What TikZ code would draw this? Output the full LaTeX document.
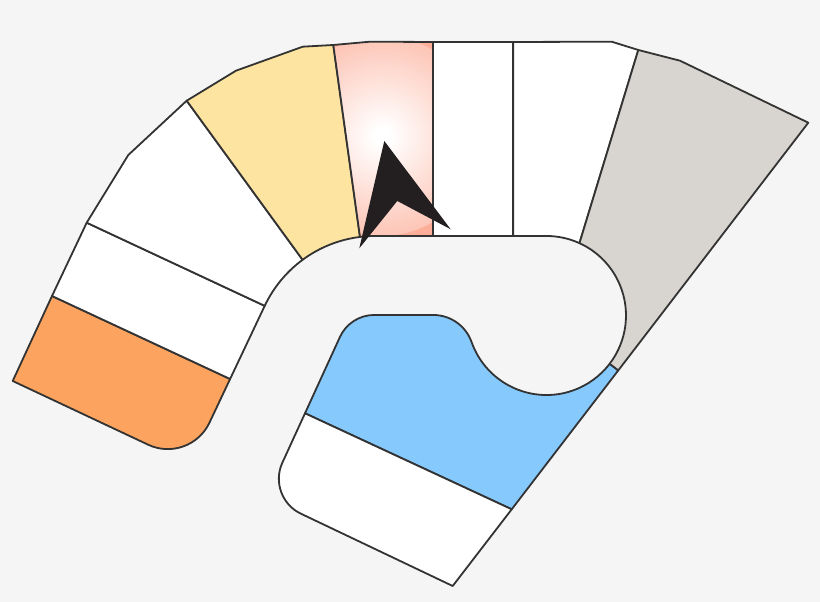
\documentclass[tikz,border=0pt]{standalone}
\usetikzlibrary{calc}
\definecolor{bgc}{HTML}{F5F5F5}
\definecolor{strokec}{HTML}{333333}
\definecolor{orac}{HTML}{FCA45F}
\definecolor{yelc}{HTML}{FDE4A0}
\definecolor{salc}{HTML}{FCAE99}
\definecolor{grayc}{HTML}{D8D4CF}
\definecolor{bluec}{HTML}{86CAFD}
\definecolor{arrc}{HTML}{231F20}
\pgfdeclareradialshading{glow}{\pgfpoint{0bp}{0bp}}{color(0bp)=(white); color(2bp)=(white); color(34bp)=(salc); color(50bp)=(salc)}
\newcommand{\salmonpath}{(P5) -- (P6) -- (S1) -- (S2) -- (IT) arc[start angle=90, end angle=97.07, radius=122pt] -- cycle}
\begin{document}
\begin{tikzpicture}[x=1pt,y=1pt,
  cell/.style={draw=strokec, line width=1.8pt, line join=round}]
\fill[bgc] (0,0) rectangle (820,602);
\useasboundingbox (0,0) rectangle (820,602);
% coordinates
\coordinate (O1) at (12.7,221);
\coordinate (O2) at (52,306);
\coordinate (O3) at (230.1,223);
\coordinate (OC) at (189.8,137.7);
\coordinate (W1) at (86.7,379.3);
\coordinate (IC) at (375,244);
\coordinate (W2) at ($(IC)+(154.7:122pt)$);
\coordinate (B) at ($(IC)+(126.4:122pt)$);
\coordinate (D) at ($(IC)+(97.07:122pt)$);
\coordinate (IT) at ($(IC)+(90:122pt)$);
\coordinate (P1) at (128.3,447);
\coordinate (P2) at (186.7,501.3);
\coordinate (P3) at (236,531.3);
\coordinate (P4) at (302.7,555.3);
\coordinate (P5) at (333.3,557);
\coordinate (P6) at (370,560.3);
\coordinate (S1) at (433.3,560);
\coordinate (S2) at (433.3,366);
\coordinate (T1) at (513.3,560);
\coordinate (T2) at (513.3,366);
\coordinate (Q1) at (611.7,560.3);
\coordinate (Q2) at (638.3,552);
\coordinate (Q3) at (680,541.3);
\coordinate (Q4) at (808.3,479.3);
\coordinate (C) at (546.5,286.5);
\coordinate (G1) at ($(C)+(65.5:79.5pt)$);
\coordinate (G3) at ($(C)+(-37.5:79.5pt)$);
\coordinate (G2) at (618.2,231.5);
\coordinate (BC) at (350,287);
\coordinate (FT) at (433.3,287);
\coordinate (BL) at (305,188.7);
\coordinate (BB) at (511.7,92.7);
\coordinate (BZ) at (452.7,16);
\coordinate (WC) at (266.5,104.7);
\coordinate (GC) at (382,466);
\coordinate (AT) at (384.3,461);
\coordinate (AL) at (359.3,353.7);
\coordinate (AN) at (397.3,401);
\coordinate (AR) at (450.7,372.7);
% orange
\filldraw[cell, fill=orac] (O1) -- (O2) -- (O3) -- ($(OC)!46pt!(O3)$) .. controls ($(OC)!20.6pt!(O3)$) and ($(OC)!20.6pt!(O1)$) .. ($(OC)!46pt!(O1)$) -- cycle;
% lower-left white
\filldraw[cell, fill=white] (O2) -- (W1) -- (W2) -- (O3) -- cycle;
% upper-left white
\filldraw[cell, fill=white] (W1) -- (P1) -- (P2) -- (B) arc[start angle=126.4, end angle=154.7, radius=122pt] -- cycle;
% yellow
\filldraw[cell, fill=yelc] (P2) -- (P3) -- (P4) -- (P5) -- (D) arc[start angle=97.07, end angle=126.4, radius=122pt] -- cycle;
% salmon with glow
\fill[salc] \salmonpath;
\begin{scope}
  \clip \salmonpath;
  \shade[shading=glow] (GC) circle (100pt);
\end{scope}
\draw[cell] \salmonpath;
% whites at top
\filldraw[cell, fill=white] (S1) -- (T1) -- (T2) -- (S2) -- cycle;
\filldraw[cell, fill=white] (T1) -- (Q1) -- (Q2) -- (G1) arc[start angle=65.5, end angle=90, radius=79.5pt] -- (T2) -- cycle;
% gray wedge
\filldraw[cell, fill=grayc] (Q2) -- (Q3) -- (Q4) -- (G2) -- (G3) arc[start angle=-37.5, end angle=65.5, radius=79.5pt] -- cycle;
% blue
\filldraw[cell, fill=bluec] (BB) -- (BL) -- ($(BC)!24pt!(BL)$) .. controls ($(BC)!9.5pt!(BL)$) and ($(BC)!9.5pt!(FT)$) .. ($(BC)!24pt!(FT)$) -- (FT) arc[start angle=90, end angle=19.5, radius=40.6pt] arc[start angle=199.5, end angle=322.5, radius=79.5pt] -- (G2) -- cycle;
% bottom white
\filldraw[cell, fill=white] (BL) -- (BB) -- (BZ) -- ($(WC)!38pt!(BZ)$) .. controls ($(WC)!17pt!(BZ)$) and ($(WC)!17pt!(BL)$) .. ($(WC)!38pt!(BL)$) -- cycle;
% arrow
\fill[arrc] (AT) -- (AL) -- (AN) -- (AR) -- cycle;
\end{tikzpicture}
\end{document}
